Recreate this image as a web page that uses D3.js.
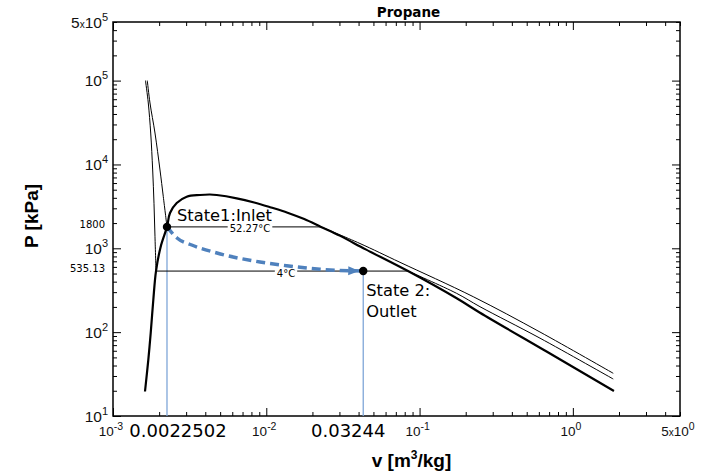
<!DOCTYPE html>
<html><head><meta charset="utf-8">
<script src="https://cdn.jsdelivr.net/npm/d3@7"></script>
<style>
html,body{margin:0;padding:0;background:#fff;}
svg{display:block;}
</style></head>
<body>
<svg id="chart" width="705" height="475"></svg>
<script>
// ---------------- data ----------------
const title = "Propane";
const xTitle = "v [m³/kg]";
const yTitle = "P [kPa]";

// saturation dome: liquid side -> critical -> vapor side
const domeV = [0.001617, 0.001699, 0.001762, 0.001832, 0.001908, 0.002047, 0.0022502, 0.002354, 0.002604, 0.003026, 0.003694, 0.004293, 0.004748, 0.006411, 0.00834, 0.01074, 0.01376, 0.01768, 0.02275, 0.03011, 0.04450, 0.08403, 0.1746, 0.2478, 0.678, 1.854];
const domeP = [19.6, 46.5, 97.7, 241.8, 535.13, 1045, 1800, 2636, 3470, 4125, 4323, 4382, 4323, 3948, 3520, 3071, 2660, 2230, 1800, 1416, 971, 535.13, 253.3, 170.6, 58.3, 19.9];

// isotherm 52.27 °C
const iso52LiqV = [0.001674, 0.001743, 0.001879, 0.002026, 0.002129, 0.0022502];
const iso52LiqP = [100000, 54070, 23710, 8590, 4125, 1800];
const iso52VapV = [0.02275, 0.04085, 0.07451, 0.2240, 0.6101, 1.8346];
const iso52VapP = [1800, 1141, 680.8, 264.7, 100.4, 32.3];
// isotherm 4 °C
const iso4LiqV = [0.001629, 0.001699, 0.001762, 0.001815, 0.001851, 0.001879, 0.001908];
const iso4LiqP = [100000, 54070, 23710, 8590, 3441, 1375, 535.13];
const iso4VapV = [0.08403, 0.1746, 0.2478, 0.6101, 1.8346];
const iso4VapP = [535.13, 290, 201.2, 84.8, 27.6];
const isoLabels = ["52.27°C", "4°C"];

// process path State 1 -> State 2
const processV = [0.0022502, 0.002615, 0.003262, 0.004769, 0.009097, 0.01359, 0.0224, 0.0429];
const processP = [1800, 1327, 1095, 879, 686, 620, 562, 535.13];

// plotted state points (as drawn) and their printed labels
const stateV = [0.0022502, 0.0429];
const stateP = [1800, 535.13];
const stateNames = [["State1:Inlet"], ["State 2:", "Outlet"]];
const stateXLabels = ["0.0022502", "0.03244"];
const stateYLabels = ["1800", "535.13"];

// axis tick labels
const xTickValues = [1e-3, 1e-2, 1e-1, 1, 5];
const xTickMant = ["", "", "", "", "5x"];
const xTickExp = ["-3", "-2", "-1", "0", "0"];
const yTickValues = [1e1, 1e2, 1e3, 1e4, 1e5, 5e5];
const yTickMant = ["", "", "", "", "", "5x"];
const yTickExp = ["1", "2", "3", "4", "5", "5"];

// ---------------- layout ----------------
const W = 705, H = 475;
const m = {left: 113, top: 22, right: 25, bottom: 59};
const svg = d3.select("#chart");
const x = d3.scaleLog().domain([1e-3, 5]).range([m.left, W - m.right]);
const y = d3.scaleLog().domain([10, 5e5]).range([H - m.bottom, m.top]);
const X0 = m.left, X1 = W - m.right, Y0 = m.top, Y1 = H - m.bottom;

function logTicks(domain) {
  const out = [];
  const k0 = Math.floor(Math.log10(domain[0])), k1 = Math.ceil(Math.log10(domain[1]));
  for (let k = k0; k <= k1; k++) for (let j = 1; j <= 9; j++) {
    const v = j * Math.pow(10, k);
    if (v >= domain[0] * 0.9999 && v <= domain[1] * 1.0001) out.push({v, major: j === 1});
  }
  return out;
}
const xt = logTicks(x.domain()), yt = logTicks(y.domain());
const xMaj = xt.filter(d => d.major).map(d => d.v), xMin = xt.filter(d => !d.major).map(d => d.v);
const yMaj = yt.filter(d => d.major).map(d => d.v), yMin = yt.filter(d => !d.major).map(d => d.v);

function addAxis(gen, tr, vals, size) {
  const g = svg.append("g").attr("transform", tr)
    .call(gen.tickValues(vals).tickSize(size).tickFormat(""));
  g.select(".domain").remove();
  g.selectAll("line").attr("stroke", "#000").attr("stroke-width", 1);
}
addAxis(d3.axisBottom(x), `translate(0,${Y1})`, xMaj, -8);
addAxis(d3.axisBottom(x), `translate(0,${Y1})`, xMin, -4);
addAxis(d3.axisTop(x), `translate(0,${Y0})`, xMaj, -8);
addAxis(d3.axisTop(x), `translate(0,${Y0})`, xMin, -4);
addAxis(d3.axisLeft(y), `translate(${X0},0)`, yMaj, -8);
addAxis(d3.axisLeft(y), `translate(${X0},0)`, yMin, -4);
addAxis(d3.axisRight(y), `translate(${X1},0)`, yMaj, -8);
addAxis(d3.axisRight(y), `translate(${X1},0)`, yMin, -4);

// frame
svg.append("rect").attr("x", X0).attr("y", Y0).attr("width", X1 - X0).attr("height", Y1 - Y0)
  .attr("fill", "none").attr("stroke", "#000").attr("stroke-width", 1.5);

// ---------------- curves ----------------
const line = d3.line().x(d => x(d[0])).y(d => y(d[1])).curve(d3.curveCatmullRom.alpha(0.5));
const zip = (a, b) => a.map((v, i) => [v, b[i]]);

// vertical state lines
svg.selectAll(".vline").data(stateV).enter().append("line")
  .attr("x1", d => x(d)).attr("x2", d => x(d))
  .attr("y1", (d, i) => y(stateP[i])).attr("y2", Y1)
  .attr("stroke", "#7fa6d8").attr("stroke-width", 1.3);

// isotherms
[[iso52LiqV, iso52LiqP], [iso52VapV, iso52VapP], [iso4LiqV, iso4LiqP], [iso4VapV, iso4VapP]].forEach(([a, b]) => {
  svg.append("path").attr("d", line(zip(a, b))).attr("fill", "none")
    .attr("stroke", "#000").attr("stroke-width", 1);
});
// horizontal (two-phase) parts with labels
const horiz = [
  {v0: iso52LiqV[iso52LiqV.length - 1], v1: iso52VapV[0], p: iso52VapP[0], label: isoLabels[0], dx: 6},
  {v0: iso4LiqV[iso4LiqV.length - 1], v1: iso4VapV[0], p: iso4VapP[0], label: isoLabels[1], dx: 4}
];
horiz.forEach(h => {
  svg.append("line").attr("x1", x(h.v0)).attr("x2", x(h.v1)).attr("y1", y(h.p)).attr("y2", y(h.p))
    .attr("stroke", "#000").attr("stroke-width", 1);
  const cx = (x(h.v0) + x(h.v1)) / 2 + h.dx;
  const t = svg.append("text").attr("x", cx).attr("y", y(h.p) + 5.5)
    .attr("text-anchor", "middle").attr("font-family", "DejaVu Sans").attr("font-size", 10)
    .attr("fill", "#000").text(h.label);
  const bb = t.node().getBBox();
  svg.insert("rect", () => t.node()).attr("x", bb.x - 2).attr("y", y(h.p) - 1).attr("width", bb.width + 4)
    .attr("height", 3).attr("fill", "#fff");
});

// dome
svg.append("path").attr("d", line(zip(domeV, domeP))).attr("fill", "none")
  .attr("stroke", "#000").attr("stroke-width", 2.2).attr("stroke-linejoin", "round");

// process arrow
svg.append("defs").append("marker").attr("id", "arr")
  .attr("markerUnits", "userSpaceOnUse").attr("markerWidth", 12).attr("markerHeight", 10)
  .attr("refX", 15).attr("refY", 4.5).attr("orient", "auto").attr("overflow", "visible")
  .append("path").attr("d", "M0,0 L11,4.5 L0,9 Z").attr("fill", "#4f81bd");
svg.append("path").attr("d", d3.line().x(d => x(d[0])).y(d => y(d[1])).curve(d3.curveMonotoneX)(zip(processV, processP)))
  .attr("fill", "none").attr("stroke", "#4f81bd").attr("stroke-width", 3.5)
  .attr("stroke-dasharray", "9,5").attr("marker-end", "url(#arr)");

// state points
svg.selectAll(".dot").data(stateV).enter().append("circle")
  .attr("cx", d => x(d)).attr("cy", (d, i) => y(stateP[i])).attr("r", 4.2).attr("fill", "#000");

// state names
const nameOff = [{dx: 10, dy: -6}, {dx: 3, dy: 25}];
stateNames.forEach((lines, i) => {
  lines.forEach((s, j) => {
    svg.append("text").attr("x", x(stateV[i]) + nameOff[i].dx).attr("y", y(stateP[i]) + nameOff[i].dy + j * 21)
      .attr("font-family", "DejaVu Sans").attr("font-size", 16.3).attr("fill", "#000").text(s);
  });
});

// ---------------- tick labels ----------------
const tf = "Liberation Sans, Arial, sans-serif";
yTickValues.forEach((v, i) => {
  const t = svg.append("text").attr("x", X0 - 5).attr("y", y(v) + 5.5).attr("text-anchor", "end")
    .attr("font-family", tf).attr("font-size", 15.5).attr("fill", "#111");
  if (yTickMant[i]) { t.append("tspan").text("5"); t.append("tspan").attr("font-size", 10).text("x"); }
  t.append("tspan").text("10");
  t.append("tspan").attr("font-size", 11).attr("dy", -7).text(yTickExp[i]);
});
xTickValues.forEach((v, i) => {
  const t = svg.append("text").attr("x", x(v) - 2).attr("y", Y1 + 20).attr("text-anchor", "middle")
    .attr("font-family", tf).attr("font-size", 13.5).attr("fill", "#111");
  if (xTickMant[i]) { t.append("tspan").text("5"); t.append("tspan").attr("font-size", 10).text("x"); }
  t.append("tspan").text("10");
  t.append("tspan").attr("font-size", 10.5).attr("dy", -6).text(xTickExp[i]);
});
const xLabOff = [11, -15];
stateXLabels.forEach((s, i) => {
  svg.append("text").attr("x", x(stateV[i]) + xLabOff[i]).attr("y", Y1 + 21).attr("text-anchor", "middle")
    .attr("font-family", "DejaVu Sans").attr("font-size", 18).attr("fill", "#000").text(s);
});
const yLabOff = [1, 1];
stateYLabels.forEach((s, i) => {
  svg.append("text").attr("x", X0 - 8).attr("y", y(stateP[i]) + yLabOff[i]).attr("text-anchor", "end")
    .attr("font-family", "DejaVu Sans").attr("font-size", 10).attr("fill", "#000").text(s);
});

// ---------------- titles ----------------
svg.append("text").attr("x", (X0 + X1) / 2 + 12).attr("y", 17).attr("text-anchor", "middle")
  .attr("font-family", "DejaVu Sans").attr("font-weight", "bold").attr("font-size", 13.5).text(title);
const xt2 = svg.append("text").attr("x", (X0 + X1) / 2 + 15).attr("y", 467).attr("text-anchor", "middle")
  .attr("font-family", tf).attr("font-weight", "bold").attr("font-size", 19);
xt2.append("tspan").text("v [m");
xt2.append("tspan").attr("font-size", 12).attr("dy", -8).text("3");
xt2.append("tspan").attr("dy", 8).text("/kg]");
svg.append("text").attr("transform", `translate(37.5,216)rotate(-90)`).attr("text-anchor", "middle")
  .attr("font-family", tf).attr("font-weight", "bold").attr("font-size", 19).text(yTitle);
</script>
</body></html>
